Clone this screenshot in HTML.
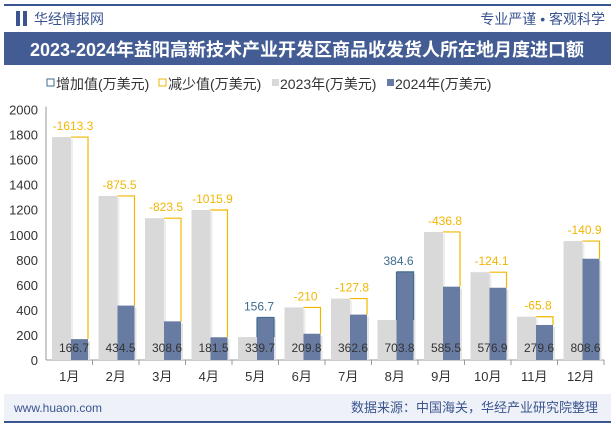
<!DOCTYPE html>
<html><head><meta charset="utf-8"><style>
body{margin:0;width:615px;height:427px;background:#fff;overflow:hidden;font-family:"Liberation Sans","Noto Sans CJK SC",sans-serif;}
svg text{font-family:"Liberation Sans","Noto Sans CJK SC",sans-serif;}
</style></head><body>
<svg width="615" height="427">
<rect x="4" y="4" width="607" height="2" fill="#3b5590"/>
<rect x="16" y="11" width="4" height="15" fill="#3b5590"/>
<rect x="23" y="11" width="4" height="15" fill="#3b5590"/>
<text x="34" y="24" font-size="14" fill="#3b5590">华经情报网</text>
<text x="605" y="24" font-size="14" fill="#3b5590" text-anchor="end">专业严谨 • 客观科学</text>
<rect x="4" y="32" width="607" height="33" fill="#435c93"/>
<text x="307" y="56" font-size="18" font-weight="bold" fill="#fff" text-anchor="middle">2023-2024年益阳高新技术产业开发区商品收发货人所在地月度进口额</text>
<g font-size="14" fill="#333">
<rect x="47" y="79" width="7" height="7" fill="#fff" stroke="#3f6c8f"/><text x="56" y="89">增加值(万美元)</text>
<rect x="159" y="79" width="7" height="7" fill="#fff" stroke="#f2b600"/><text x="168" y="89">减少值(万美元)</text>
<rect x="272" y="79" width="7" height="7" fill="#d9d9d9"/><text x="280" y="89">2023年(万美元)</text>
<rect x="387" y="79" width="7" height="7" fill="#687ca3"/><text x="395" y="89">2024年(万美元)</text>
</g>
<g id="plot"></g>
<rect x="4" y="394" width="607" height="27" fill="#eef1f7"/>
<rect x="4" y="421" width="607" height="2" fill="#3b5590"/>
<text x="14" y="412" font-size="12" fill="#3b5590">www.huaon.com</text>
<text x="598" y="412" font-size="13" fill="#3b5590" text-anchor="end">数据来源：中国海关，华经产业研究院整理</text>
</svg>
<script>
const categories=["1月","2月","3月","4月","5月","6月","7月","8月","9月","10月","11月","12月"];
const v2024=[166.7,434.5,308.6,181.5,339.7,209.8,362.6,703.8,585.5,576.9,279.6,808.6];
const changes=[-1613.3,-875.5,-823.5,-1015.9,156.7,-210,-127.8,384.6,-436.8,-124.1,-65.8,-140.9];
const yTicks=[0,200,400,600,800,1000,1200,1400,1600,1800,2000];
const NS="http://www.w3.org/2000/svg";
const g=document.getElementById('plot');
const x0=46,x1=604,y0=360,yTop=109.5,yMax=2000;
const bw=(x1-x0)/categories.length;
const y=v=>y0-(v/yMax)*(y0-yTop);
function el(t,a,p){const e=document.createElementNS(NS,t);for(const k in a)e.setAttribute(k,a[k]);(p||g).appendChild(e);return e;}
yTicks.forEach(t=>{
 const tx=el('text',{x:38,y:y(t)+5,'font-size':13,fill:'#333','text-anchor':'end'});tx.textContent=t;
 
 
});
const ax=el('line',{x1:x0,y1:yTop-3,x2:x0,y2:y0,stroke:'#999'});


const xa=el('line',{x1:x0,y1:y0,x2:x1,y2:y0,stroke:'#999'});


categories.forEach((c,i)=>{
 const cx=x0+bw*i;
 el('line',{x1:cx+bw,y1:y0,x2:cx+bw,y2:y0+5,stroke:'#999'});
 const v4=v2024[i],d=changes[i],v3=v4-d;
 const gx=cx+6,bx=cx+25,w=19,w2=17;
 el('rect',{x:gx+2,y:y(v3)+2,width:w,height:y0-y(v3)-2,fill:'#eeeeee'});
 const r3=el('rect',{x:gx,y:y(v3),width:w,height:y0-y(v3),fill:'#d9d9d9'});
 
 
 el('rect',{x:bx+2,y:y(v4)+2,width:w2,height:y0-y(v4)-2,fill:'#e4e4e4'});
 const r4=el('rect',{x:bx,y:y(v4),width:w2,height:y0-y(v4),fill:'#687ca3'});
 
 
 const col=d<0?'#f2b600':'#3f6c8f';
 const top=Math.min(y(v3),y(v4)),bot=Math.max(y(v3),y(v4));
 const bxr=el('path',{d:`M${gx+w},${top}H${bx+w2}V${bot}`+(d>0?`M${gx+w},${top}V${bot}`:''),fill:'none',stroke:col,'stroke-width':1.2});
 
 
 const lt=el('text',{x:bx+2,y:top-7,'font-size':12,fill:col,'text-anchor':'middle'});lt.textContent=d;
 
 
 const vt=el('text',{x:bx+3,y:352,'font-size':12,fill:'#333','text-anchor':'middle'});vt.textContent=v4;
 
 
 const ct=el('text',{x:cx+bw/2,y:381,'font-size':13,fill:'#333','text-anchor':'middle'});ct.textContent=c;
 
 
});
</script>
</body></html>
